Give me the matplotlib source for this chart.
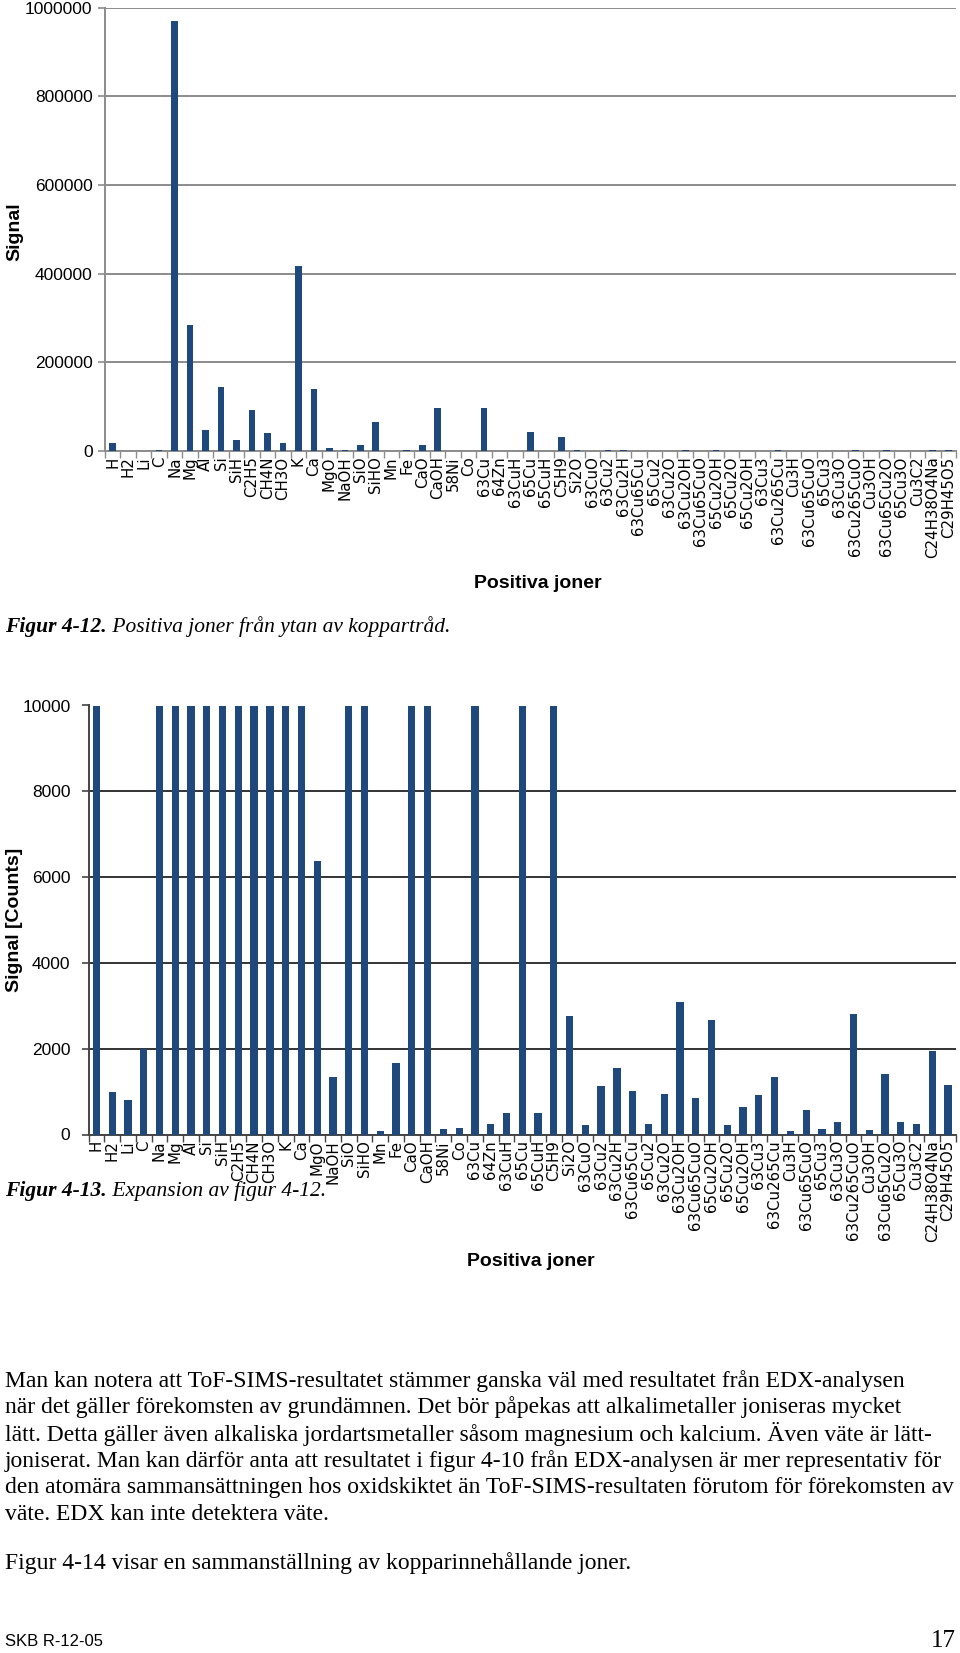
import matplotlib
matplotlib.use('Agg')
import matplotlib.pyplot as plt

categories = ['H', 'H2', 'Li', 'C', 'Na', 'Mg', 'Al', 'Si', 'SiH', 'C2H5', 'CH4N', 'CH3O',
              'K', 'Ca', 'MgO', 'NaOH', 'SiO', 'SiHO', 'Mn', 'Fe', 'CaO', 'CaOH', '58Ni', 'Co',
              '63Cu', '64Zn', '63CuH', '65Cu', '65CuH', 'C5H9', 'Si2O', '63CuO', '63Cu2',
              '63Cu2H', '63Cu65Cu', '65Cu2', '63Cu2O', '63Cu2OH', '63Cu65CuO', '65Cu2OH',
              '65Cu2O', '65Cu2OH', '63Cu3', '63Cu265Cu', 'Cu3H', '63Cu65CuO', '65Cu3',
              '63Cu3O', '63Cu265CuO', 'Cu3OH', '63Cu65Cu2O', '65Cu3O', 'Cu3C2',
              'C24H38O4Na', 'C29H45O5']

signal = [19000, 1000, 810, 2000, 970000, 284000, 48000, 144000, 24000, 93000, 41000, 17000,
          418000, 139000, 6380, 1350, 14000, 64500, 70, 1660, 14000, 96000, 117, 140,
          97500, 240, 490, 43500, 505, 32000, 2760, 225, 1135,
          1560, 1020, 250, 940, 3090, 840, 2670,
          210, 645, 925, 1350, 78, 560, 124,
          295, 2805, 109, 1415, 295, 241,
          1945, 1150]

ticks1 = [0, 200000, 400000, 600000, 800000, 1000000]
ticks2 = [0, 2000, 4000, 6000, 8000, 10000]

BAR = '#1f497d'
W, H = 960, 1653
fig = plt.figure(figsize=(9.6, 16.53), dpi=100)
fig.patch.set_facecolor('white')
SANS = 'Liberation Sans'
SERIF = 'Liberation Serif'


def rect(l, t, r, b):
    return [l / W, 1 - b / H, (r - l) / W, (b - t) / H]


def fx(x):
    return x / W


def fy(y):
    return 1 - y / H


def make_chart(ax, ymax, yticks, gridcolor, spinecolor, barw, ypad):
    n = len(categories)
    xs = list(range(n))
    ax.bar(xs, signal, width=barw, color=BAR, zorder=3)
    ax.set_xlim(-0.5, n - 0.5)
    ax.set_ylim(0, ymax)
    ax.set_yticks(yticks)
    ax.set_yticklabels([str(v) for v in yticks], fontsize=12.5, family=SANS)
    ax.yaxis.grid(True, color=gridcolor, lw=1.4, zorder=0)
    ax.set_axisbelow(True)
    for s in ['top', 'right']:
        ax.spines[s].set_visible(False)
    for s in ['left', 'bottom']:
        ax.spines[s].set_color(spinecolor)
        ax.spines[s].set_linewidth(1.4)
    ax.set_xticks(xs)
    ax.set_xticklabels(categories, rotation=90, fontsize=10.8, family='DejaVu Sans')
    ax.tick_params(axis='x', which='major', length=0, pad=4)
    ax.set_xticks([i - 0.5 for i in range(n + 1)], minor=True)
    ax.tick_params(axis='x', which='minor', length=5, direction='out', color=spinecolor, width=1)
    ax.tick_params(axis='y', length=5, direction='out', color=spinecolor, width=1.2, pad=ypad)


ax1 = fig.add_axes(rect(105, 7.5, 956, 451))
make_chart(ax1, 1000000, ticks1, '#8c8c8c', '#8c8c8c', 0.43, 4)

ax2 = fig.add_axes(rect(88.5, 705.5, 956, 1134.5))
make_chart(ax2, 10000, ticks2, '#333333', '#444444', 0.46, 8)

# axis titles
fig.text(fx(15), fy(232), 'Signal', rotation=90, ha='center', va='center',
         fontsize=14, fontweight='bold', family=SANS)
fig.text(fx(538), fy(583), 'Positiva joner', ha='center', va='center',
         fontsize=14, fontweight='bold', family=SANS)
fig.text(fx(15), fy(920), 'Signal [Counts]', rotation=90, ha='center', va='center',
         fontsize=14, fontweight='bold', family=SANS)
fig.text(fx(531), fy(1262), 'Positiva joner', ha='center', va='center',
         fontsize=14, fontweight='bold', family=SANS)

renderer = fig.canvas.get_renderer()


def caption(y, bold_part, rest, size):
    t1 = fig.text(fx(5), fy(y), bold_part, fontsize=size, va='center', ha='left',
                  family=SERIF, style='italic', weight='bold')
    bb = t1.get_window_extent(renderer)
    fig.text(bb.x1 / W, fy(y), rest, fontsize=size, va='center', ha='left',
             family=SERIF, style='italic')


caption(627, 'Figur 4-12.', ' Positiva joner från ytan av koppartråd.', 15.5)
caption(1191, 'Figur 4-13.', ' Expansion av figur 4-12.', 15.5)

body = [
    'Man kan notera att ToF-SIMS-resultatet stämmer ganska väl med resultatet från EDX-analysen',
    'när det gäller förekomsten av grundämnen. Det bör påpekas att alkalimetaller joniseras mycket',
    'lätt. Detta gäller även alkaliska jordartsmetaller såsom magnesium och kalcium. Även väte är lätt-',
    'joniserat. Man kan därför anta att resultatet i figur 4-10 från EDX-analysen är mer representativ för',
    'den atomära sammansättningen hos oxidskiktet än ToF-SIMS-resultaten förutom för förekomsten av',
    'väte. EDX kan inte detektera väte.',
    'Figur 4-14 visar en sammanställning av kopparinnehållande joner.',
]
body_y = [1381, 1407, 1434, 1461, 1487, 1515, 1563]
body_w = [925, 893, 950, 950, 950, 313, 620]

texts = [fig.text(fx(5), fy(y), s, fontsize=16, family=SERIF, va='center', ha='left')
         for s, y in zip(body, body_y)]
widths = [t.get_window_extent(renderer).width for t in texts]
size = 16 * sum(body_w) / sum(widths)
size = min(size, min(16 * 950 / w for w in widths))
for t in texts:
    t.set_fontsize(size)

foot = fig.text(fx(5), fy(1641), 'SKB R-12-05', fontsize=12, va='center', ha='left',
                family=SANS)
fw = foot.get_window_extent(renderer).width
foot.set_fontsize(12 * 98 / fw)
fig.text(fx(956), fy(1641), '17', fontsize=size * 1.05, family=SERIF, va='center', ha='right')

fig.savefig('out.png', dpi=100, facecolor='white')
